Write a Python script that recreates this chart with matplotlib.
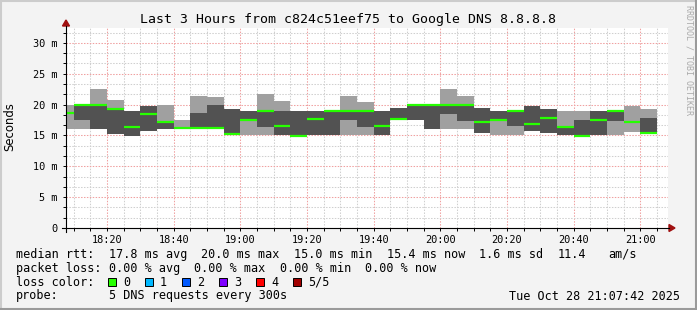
import numpy as np
import matplotlib
matplotlib.use("Agg")
import matplotlib.pyplot as plt
from matplotlib.lines import Line2D
from matplotlib.patches import Polygon, Rectangle

W, H = 697, 310

# 5-minute slots (start time) and the ping spread per slot, in ms
slots = ["18:05", "18:10", "18:15", "18:20", "18:25", "18:30", "18:35", "18:40", "18:45",
         "18:50", "18:55", "19:00", "19:05", "19:10", "19:15", "19:20", "19:25", "19:30",
         "19:35", "19:40", "19:45", "19:50", "19:55", "20:00", "20:05", "20:10", "20:15",
         "20:20", "20:25", "20:30", "20:35", "20:40", "20:45", "20:50", "20:55", "21:00"]
rtt_min = [16.0, 16.0, 16.0, 15.2, 14.9, 15.8, 16.0, 16.1, 16.0, 16.0, 15.2, 15.0,
           15.0, 15.0, 14.85, 15.0, 15.0, 15.0, 15.0, 15.0, 17.7, 17.5, 16.0, 16.0,
           16.0, 15.45, 15.0, 15.0, 15.8, 15.35, 15.0, 14.85, 15.0, 15.0, 15.6, 15.4]
rtt_q1 = [18.7, 17.5, 16.0, 15.2, 14.9, 15.8, 16.0, 16.2, 16.0, 16.0, 15.2, 17.55,
          16.3, 15.0, 14.85, 15.0, 15.0, 17.5, 16.4, 15.0, 17.7, 17.5, 16.0, 18.5,
          17.4, 15.45, 17.5, 16.5, 15.8, 15.35, 15.0, 14.85, 15.0, 17.3, 17.1, 15.4]
rtt_med = [18.7, 20.0, 20.0, 19.3, 16.4, 18.4, 17.2, 16.2, 16.2, 16.2, 15.3, 17.55,
           19.0, 16.6, 14.9, 17.7, 19.0, 19.0, 19.0, 16.6, 17.7, 20.0, 20.0, 20.0,
           20.0, 17.1, 17.5, 19.0, 16.9, 17.8, 16.4, 14.9, 17.55, 19.0, 17.1, 15.45]
rtt_q3 = [18.7, 20.1, 20.1, 19.3, 19.0, 19.7, 17.2, 16.2, 18.7, 19.9, 19.3, 19.0,
          19.0, 19.0, 19.0, 19.0, 19.0, 19.0, 19.0, 19.0, 19.45, 20.1, 20.1, 20.1,
          20.1, 19.45, 19.0, 19.0, 19.7, 19.3, 16.4, 17.5, 19.0, 19.0, 17.1, 17.8]
rtt_max = [19.9, 20.1, 22.5, 20.8, 19.0, 19.7, 19.9, 17.5, 21.4, 21.2, 19.3, 19.0,
           21.7, 20.6, 19.0, 19.0, 19.0, 21.4, 20.5, 19.0, 19.45, 20.1, 20.1, 22.5,
           21.4, 19.45, 19.0, 19.0, 19.7, 19.3, 19.0, 19.0, 19.0, 19.0, 19.7, 19.3]

xtick_labels = ["18:20", "18:40", "19:00", "19:20", "19:40", "20:00", "20:20", "20:40", "21:00"]
ytick_labels = ["0", "5 m", "10 m", "15 m", "20 m", "25 m", "30 m"]

loss_labels = ["0", "1", "2", "3", "4", "5/5"]
loss_colors = ["#26ff00", "#00b8ff", "#0059ff", "#7e00ff", "#ff0000", "#a10000"]

MONO = "DejaVu Sans Mono"
CW = 7.13  # legend character cell width, px


def to_min(s):
    h, m = s.split(":")
    return (int(h) - 18) * 60 + int(m)


def fx(x):
    return x / W


def fy(y):
    return 1 - y / H


x0 = np.array([to_min(s) for s in slots])
lo = np.array(rtt_min)
q1 = np.array(rtt_q1)
med = np.array(rtt_med)
q3 = np.array(rtt_q3)
hi = np.array(rtt_max)

fig = plt.figure(figsize=(W / 100, H / 100), dpi=100, facecolor="#f3f3f3")
ax = fig.add_axes([fx(66), fy(228), fx(602), 200 / H])
ax.set_facecolor("white")
ax.set_xlim(7.7, 7.7 + 602 * 0.3)
ax.set_ylim(0, 200 / 6.17)
for sp in ax.spines.values():
    sp.set_visible(False)

# grid
ax.set_xticks([to_min(s) for s in xtick_labels])
ax.set_xticklabels(xtick_labels, fontfamily=MONO, fontsize=7.4)
ax.set_xticks([m for m in range(10, 190, 5) if m % 20], minor=True)
ax.set_yticks(np.arange(0, 31, 5))
ax.set_yticklabels(ytick_labels, fontfamily=MONO, fontsize=7.4)
ax.set_yticks([v for v in np.arange(0, 32.4, 5 / 3) if abs(v / 5 - round(v / 5)) > 0.01], minor=True)
ax.tick_params(which="both", length=2, width=0.7, color="black")
ax.tick_params(axis="x", which="major", pad=3)
ax.tick_params(axis="y", which="major", pad=4)
dots = (0, (1.4, 1.4))
ax.grid(which="minor", color="#cfcfcf", linestyle=dots, linewidth=0.75)
ax.grid(which="major", color="#f0a0a0", linestyle=dots, linewidth=0.75)
ax.set_axisbelow(True)

# smoke
ax.bar(x0, hi - lo, bottom=lo, width=5, align="edge", color="#a0a0a0", linewidth=0, zorder=2)
ax.bar(x0, q3 - q1, bottom=q1, width=5, align="edge", color="#525252", linewidth=0, zorder=3)
ax.hlines(med, x0, x0 + 5, color=loss_colors[0], linewidth=1.6, zorder=4)

fig.text(fx(10), fy(127), "Seconds", fontsize=8.4, rotation=90, ha="center", va="center")

# axis lines with arrows
fig.add_artist(Line2D([fx(62), fx(669)], [fy(228), fy(228)], color="black", lw=0.8))
fig.add_artist(Line2D([fx(66), fx(66)], [fy(232), fy(26)], color="black", lw=0.8))
fig.add_artist(Polygon([[fx(669), fy(224.5)], [fx(675), fy(228)], [fx(669), fy(231.5)]],
                       closed=True, color="#a01010"))
fig.add_artist(Polygon([[fx(62.5), fy(26)], [fx(66), fy(20)], [fx(69.5), fy(26)]],
                       closed=True, color="#a01010"))

fig.text(fx(348), fy(19), "Last 3 Hours from c824c51eef75 to Google DNS 8.8.8.8",
         fontfamily=MONO, fontsize=9.5, ha="center", va="center")
fig.text(fx(688.5), fy(60), "RRDTOOL / TOBI OETIKER", fontfamily=MONO, fontsize=6,
         color="#aaaaaa", rotation=270, ha="center", va="center")

# legend rows (positions in character cells)
fs = 8.5
row1 = [(0, "median rtt:"), (13, "17.8 ms avg"), (26, "20.0 ms max"), (39, "15.0 ms min"),
        (52, "15.4 ms now"), (65, "1.6 ms sd"), (76, "11.4"), (83, "am/s")]
row2 = [(0, "packet loss:"), (13, "0.00 % avg"), (25, "0.00 % max"),
        (37, "0.00 % min"), (49, "0.00 % now")]
for i, s in row1:
    fig.text(fx(16 + i * CW), fy(254.3), s, fontfamily=MONO, fontsize=fs, va="center")
for i, s in row2:
    fig.text(fx(16 + i * CW), fy(268.3), s, fontfamily=MONO, fontsize=fs, va="center")

fig.text(fx(16), fy(282.3), "loss color:", fontfamily=MONO, fontsize=fs, va="center")
for i, (lab, col) in enumerate(zip(loss_labels, loss_colors)):
    bx = 108 + i * 37
    fig.add_artist(Rectangle((fx(bx), fy(286.3)), fx(8), 8 / H, facecolor=col,
                             edgecolor="black", linewidth=0.7))
    fig.text(fx(bx + 15), fy(282.3), lab, fontfamily=MONO, fontsize=fs, va="center")

fig.text(fx(16), fy(296), "probe:", fontfamily=MONO, fontsize=fs, va="center")
fig.text(fx(16 + 13 * CW), fy(296), "5 DNS requests every 300s", fontfamily=MONO, fontsize=fs,
         va="center")
fig.text(fx(680), fy(296), "Tue Oct 28 21:07:42 2025", fontfamily=MONO, fontsize=fs,
         va="center", ha="right")

# outer frame
fig.add_artist(Line2D([0, 1], [fy(1), fy(1)], color="#cccccc", lw=1.5))
fig.add_artist(Line2D([fx(1), fx(1)], [0, 1], color="#cccccc", lw=1.5))
fig.add_artist(Line2D([0, 1], [fy(309), fy(309)], color="#9a9a9a", lw=1.5))
fig.add_artist(Line2D([fx(696), fx(696)], [0, 1], color="#9a9a9a", lw=1.5))

fig.savefig("out.png", dpi=100, facecolor=fig.get_facecolor())
